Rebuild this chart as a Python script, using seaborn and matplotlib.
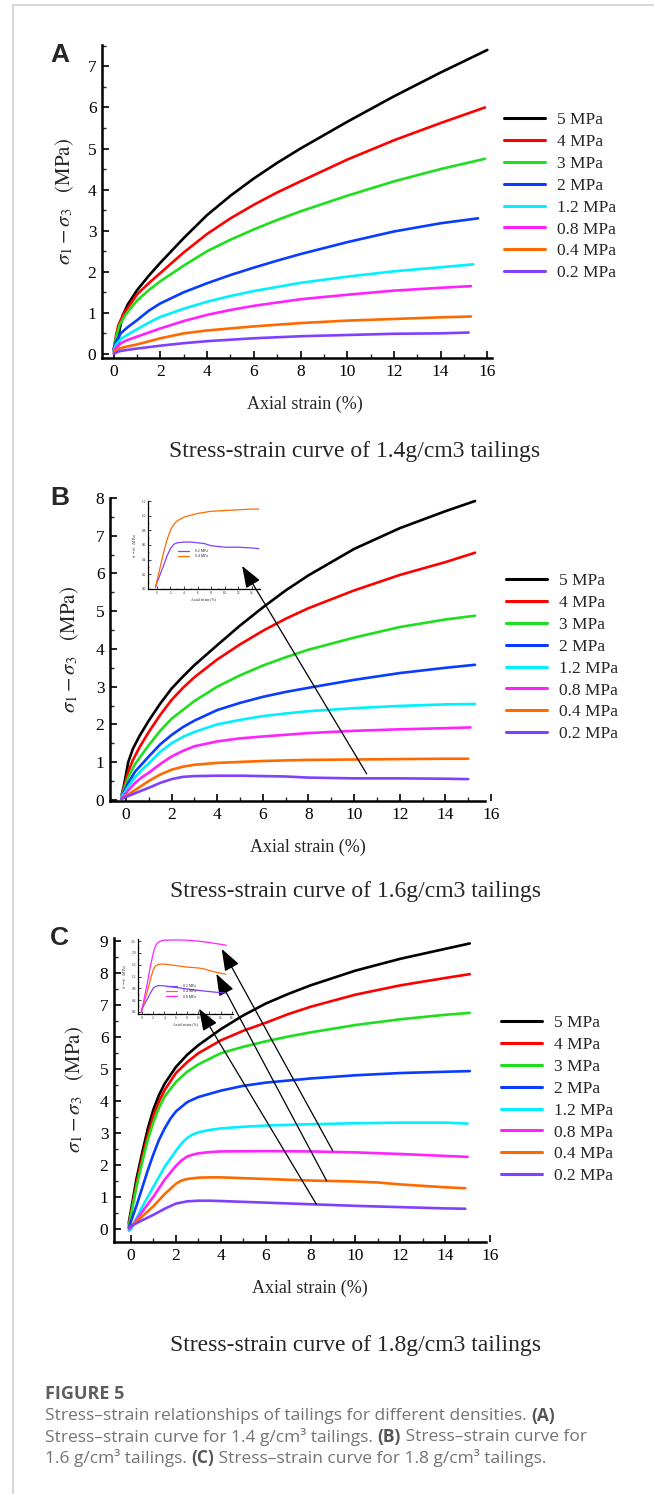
import numpy as np
import pandas as pd
import matplotlib
matplotlib.use("Agg")
import matplotlib.pyplot as plt
import seaborn as sns
from matplotlib.ticker import MultipleLocator
from matplotlib.lines import Line2D

sns.set_theme(style="ticks")
plt.rcParams["font.family"] = ["Liberation Serif", "DejaVu Sans"]
plt.rcParams["mathtext.fontset"] = "stix"

# ---------------- data ----------------
pressures = ["5 MPa", "4 MPa", "3 MPa", "2 MPa", "1.2 MPa", "0.8 MPa", "0.4 MPa", "0.2 MPa"]
colors = ["#000000", "#ff0000", "#1ede1e", "#0a3cff", "#00f0ff", "#ff22ff", "#ff6a00", "#8040ff"]

# Panel A: 1.4 g/cm3
A_x_5 = [0.0, 0.2, 0.25, 0.4, 0.6, 1, 1.5, 2, 3, 4, 5, 6, 7, 8, 10, 12, 14, 16]
A_y_5 = [0.12, 0.2, 0.6, 0.95, 1.2, 1.55, 1.9, 2.22, 2.82, 3.38, 3.85, 4.27, 4.65, 5.0, 5.65, 6.27, 6.85, 7.4]
A_x_4 = [0, 0.1, 0.2, 0.4, 0.7, 1, 1.5, 2, 3, 4, 5, 6, 7, 8, 10, 12, 14, 15.9]
A_y_4 = [0.1, 0.45, 0.7, 0.95, 1.2, 1.45, 1.72, 1.97, 2.47, 2.92, 3.3, 3.63, 3.93, 4.2, 4.73, 5.2, 5.62, 6.0]
A_x_3 = [0, 0.1, 0.25, 0.5, 1, 1.5, 2, 3, 4, 5, 6, 7, 8, 10, 12, 14, 15.9]
A_y_3 = [0.1, 0.4, 0.7, 0.95, 1.3, 1.55, 1.77, 2.15, 2.5, 2.78, 3.03, 3.26, 3.47, 3.85, 4.2, 4.5, 4.75]
A_x_2 = [0, 0.1, 0.3, 0.6, 1, 1.5, 2, 3, 4, 5, 6, 7, 8, 10, 12, 14, 15.6]
A_y_2 = [0.1, 0.3, 0.5, 0.65, 0.82, 1.05, 1.23, 1.5, 1.72, 1.92, 2.1, 2.27, 2.43, 2.72, 2.98, 3.18, 3.3]
A_x_12 = [0, 0.1, 0.3, 0.6, 1, 1.5, 2, 3, 4, 5, 6, 8, 10, 12, 14, 15.4]
A_y_12 = [0.08, 0.22, 0.36, 0.47, 0.6, 0.76, 0.9, 1.1, 1.27, 1.41, 1.53, 1.73, 1.88, 2.01, 2.11, 2.18]
A_x_08 = [0, 0.1, 0.3, 0.6, 1, 2, 3, 4, 5, 6, 8, 10, 12, 14, 15.3]
A_y_08 = [0.05, 0.15, 0.26, 0.34, 0.42, 0.62, 0.8, 0.95, 1.07, 1.17, 1.33, 1.44, 1.54, 1.61, 1.65]
A_x_04 = [0, 0.2, 0.5, 1, 2, 3, 4, 6, 8, 10, 12, 14, 15.3]
A_y_04 = [0.05, 0.12, 0.17, 0.23, 0.38, 0.5, 0.57, 0.67, 0.75, 0.81, 0.85, 0.89, 0.91]
A_x_02 = [0, 0.2, 0.5, 1, 2, 3, 4, 6, 8, 10, 12, 14, 15.2]
A_y_02 = [0.0, 0.06, 0.09, 0.13, 0.2, 0.26, 0.31, 0.38, 0.43, 0.46, 0.49, 0.5, 0.52]

# Panel B: 1.6 g/cm3
B_x_5 = [-0.2, -0.1, 0.1, 0.3, 0.6, 1, 1.5, 2, 2.5, 3, 4, 5, 6, 7, 8, 10, 12, 14, 15.3]
B_y_5 = [0.1, 0.35, 1.0, 1.35, 1.7, 2.1, 2.55, 2.95, 3.27, 3.57, 4.1, 4.62, 5.1, 5.55, 5.95, 6.65, 7.2, 7.65, 7.92]
B_x_4 = [-0.2, -0.1, 0.1, 0.3, 0.6, 1, 1.5, 2, 2.5, 3, 4, 5, 6, 7, 8, 10, 12, 14, 15.3]
B_y_4 = [0.1, 0.3, 0.75, 1.05, 1.4, 1.8, 2.25, 2.65, 2.97, 3.25, 3.72, 4.12, 4.48, 4.8, 5.08, 5.55, 5.96, 6.3, 6.55]
B_x_3 = [-0.2, -0.1, 0.1, 0.4, 0.7, 1, 1.5, 2, 3, 4, 5, 6, 7, 8, 10, 12, 14, 15.3]
B_y_3 = [0.1, 0.25, 0.6, 0.95, 1.2, 1.45, 1.83, 2.15, 2.62, 3.0, 3.3, 3.56, 3.78, 3.98, 4.3, 4.58, 4.78, 4.88]
B_x_2 = [-0.2, -0.1, 0.1, 0.4, 0.7, 1, 1.5, 2, 2.5, 3, 4, 5, 6, 7, 8, 10, 12, 14, 15.3]
B_y_2 = [0.1, 0.2, 0.45, 0.75, 0.95, 1.15, 1.47, 1.72, 1.93, 2.1, 2.38, 2.57, 2.73, 2.86, 2.97, 3.18, 3.36, 3.5, 3.58]
B_x_12 = [-0.2, -0.1, 0.1, 0.4, 0.7, 1, 1.5, 2, 2.5, 3, 4, 5, 6, 7, 8, 10, 12, 14, 15.3]
B_y_12 = [0.1, 0.15, 0.35, 0.6, 0.8, 0.97, 1.27, 1.5, 1.67, 1.8, 2.0, 2.12, 2.22, 2.29, 2.35, 2.43, 2.49, 2.53, 2.54]
B_x_08 = [-0.2, -0.1, 0.1, 0.4, 0.7, 1, 1.5, 2, 2.5, 3, 4, 5, 6, 8, 10, 12, 14, 15.1]
B_y_08 = [0.05, 0.1, 0.25, 0.45, 0.6, 0.72, 0.95, 1.15, 1.3, 1.42, 1.55, 1.63, 1.68, 1.77, 1.83, 1.87, 1.9, 1.92]
B_x_04 = [-0.2, 0, 0.5, 1, 1.5, 2, 2.5, 3, 4, 6, 8, 10, 12, 14, 15]
B_y_04 = [0.03, 0.1, 0.3, 0.5, 0.67, 0.8, 0.88, 0.93, 0.98, 1.03, 1.06, 1.07, 1.08, 1.09, 1.09]
B_x_02 = [-0.2, 0, 0.5, 1, 1.5, 2, 2.5, 3, 4, 5, 6, 7, 8, 10, 12, 14, 15]
B_y_02 = [0.02, 0.08, 0.2, 0.32, 0.45, 0.55, 0.61, 0.63, 0.64, 0.64, 0.63, 0.62, 0.59, 0.57, 0.57, 0.56, 0.55]

# Panel C: 1.8 g/cm3
C_x_5 = [-0.1, 0, 0.25, 0.5, 0.75, 1, 1.25, 1.5, 2, 2.5, 3, 4, 5, 6, 7, 8, 10, 12, 14, 15.1]
C_y_5 = [0.2, 0.6, 1.6, 2.4, 3.15, 3.75, 4.2, 4.55, 5.07, 5.45, 5.75, 6.25, 6.68, 7.05, 7.35, 7.62, 8.08, 8.45, 8.76, 8.93]
C_x_4 = [-0.1, 0, 0.25, 0.5, 0.75, 1, 1.25, 1.5, 2, 2.5, 3, 4, 5, 6, 7, 8, 10, 12, 14, 15.1]
C_y_4 = [0.15, 0.5, 1.45, 2.25, 2.95, 3.55, 4.0, 4.35, 4.88, 5.22, 5.5, 5.9, 6.2, 6.45, 6.72, 6.95, 7.33, 7.62, 7.85, 7.97]
C_x_3 = [-0.1, 0, 0.25, 0.5, 0.75, 1, 1.25, 1.5, 2, 2.5, 3, 4, 5, 6, 7, 8, 10, 12, 14, 15.1]
C_y_3 = [0.1, 0.45, 1.35, 2.1, 2.8, 3.35, 3.8, 4.15, 4.6, 4.92, 5.15, 5.5, 5.7, 5.87, 6.02, 6.15, 6.38, 6.56, 6.7, 6.76]
C_x_2 = [-0.1, 0, 0.25, 0.5, 0.75, 1, 1.25, 1.5, 1.75, 2, 2.5, 3, 4, 5, 6, 8, 10, 12, 14, 15.1]
C_y_2 = [0.05, 0.25, 0.75, 1.3, 1.85, 2.35, 2.8, 3.15, 3.45, 3.68, 3.97, 4.13, 4.33, 4.48, 4.58, 4.71, 4.81, 4.88, 4.92, 4.94]
C_x_12 = [-0.1, 0, 0.25, 0.5, 1, 1.5, 2, 2.25, 2.5, 2.75, 3, 3.5, 4, 5, 6, 8, 10, 12, 14, 15]
C_y_12 = [-0.05, 0.0, 0.35, 0.7, 1.33, 1.95, 2.45, 2.68, 2.85, 2.96, 3.03, 3.1, 3.15, 3.2, 3.24, 3.28, 3.31, 3.33, 3.33, 3.3]
C_x_08 = [-0.1, 0, 0.5, 1, 1.5, 2, 2.25, 2.5, 2.75, 3, 3.5, 4, 6, 8, 10, 12, 14, 15]
C_y_08 = [0.0, 0.05, 0.55, 1.02, 1.55, 1.98, 2.15, 2.27, 2.33, 2.37, 2.41, 2.43, 2.44, 2.43, 2.4, 2.35, 2.29, 2.26]
C_x_04 = [-0.1, 0, 0.5, 1, 1.5, 2, 2.25, 2.5, 3, 3.5, 4, 6, 8, 10, 11, 12, 14, 14.9]
C_y_04 = [0.05, 0.1, 0.4, 0.72, 1.1, 1.42, 1.52, 1.57, 1.61, 1.62, 1.62, 1.57, 1.52, 1.49, 1.46, 1.4, 1.31, 1.28]
C_x_02 = [-0.1, 0, 0.5, 1, 1.5, 2, 2.5, 3, 3.5, 4, 6, 8, 10, 12, 14, 14.9]
C_y_02 = [0.05, 0.1, 0.28, 0.45, 0.64, 0.8, 0.87, 0.89, 0.89, 0.88, 0.83, 0.78, 0.73, 0.69, 0.65, 0.64]

panel_A = [(A_x_5, A_y_5), (A_x_4, A_y_4), (A_x_3, A_y_3), (A_x_2, A_y_2),
           (A_x_12, A_y_12), (A_x_08, A_y_08), (A_x_04, A_y_04), (A_x_02, A_y_02)]
panel_B = [(B_x_5, B_y_5), (B_x_4, B_y_4), (B_x_3, B_y_3), (B_x_2, B_y_2),
           (B_x_12, B_y_12), (B_x_08, B_y_08), (B_x_04, B_y_04), (B_x_02, B_y_02)]
panel_C = [(C_x_5, C_y_5), (C_x_4, C_y_4), (C_x_3, C_y_3), (C_x_2, C_y_2),
           (C_x_12, C_y_12), (C_x_08, C_y_08), (C_x_04, C_y_04), (C_x_02, C_y_02)]

panel_titles = ["Stress-strain curve of 1.4g/cm3 tailings",
                "Stress-strain curve of 1.6g/cm3 tailings",
                "Stress-strain curve of 1.8g/cm3 tailings"]
panel_letters = ["A", "B", "C"]
ylabel_text = r"$\sigma_1-\sigma_3\quad(\mathrm{MPa})$"


def make_df(curves, keep=None):
    frames = []
    for p, (xs, ys) in zip(pressures, curves):
        if keep is not None and p not in keep:
            continue
        frames.append(pd.DataFrame({"strain": xs, "stress": ys, "pressure": p}))
    return pd.concat(frames, ignore_index=True)


palette = dict(zip(pressures, colors))

# ---------------- figure ----------------
W, H = 654, 1494
fig = plt.figure(figsize=(W / 100, H / 100), dpi=100)
fig.patch.set_facecolor("white")


def rect(l, t, r, b):
    return [l / W, 1 - b / H, (r - l) / W, (b - t) / H]


# card border
fig.add_artist(Line2D([13 / W, 13 / W], [0, 1 - 5 / H], transform=fig.transFigure,
                      color="#d4d4d4", lw=1.3))
fig.add_artist(Line2D([13 / W, 1], [1 - 5 / H, 1 - 5 / H], transform=fig.transFigure,
                      color="#d4d4d4", lw=1.3))

panels = [
    dict(curves=panel_A, box=(102, 45, 492, 358), xlim=(-0.5, 16.2), ylim=(-0.1, 7.52),
         spine_end=16.2, legend_xy=(504, 112), title_y=452, letter_y=62, ylab=-26),
    dict(curves=panel_B, box=(110, 498, 491, 801), xlim=(-0.7, 16.0), ylim=(-0.03, 8.0),
         spine_end=15.75, legend_xy=(506, 573), title_y=892, letter_y=505, ylab=-29),
    dict(curves=panel_C, box=(114, 938, 490, 1242), xlim=(-0.76, 16.0), ylim=(-0.4, 9.1),
         spine_end=15.8, legend_xy=(501, 1015), title_y=1345, letter_y=945, ylab=-28),
]

axes = []
for i, P in enumerate(panels):
    ax = fig.add_axes(rect(*P["box"]))
    axes.append(ax)
    df = make_df(P["curves"])
    sns.lineplot(data=df, x="strain", y="stress", hue="pressure", hue_order=pressures,
                 palette=palette, sort=False, estimator=None, lw=1.9, ax=ax)
    ax.set_xlim(*P["xlim"])
    ax.set_ylim(*P["ylim"])
    ax.xaxis.set_major_locator(MultipleLocator(2))
    ax.xaxis.set_minor_locator(MultipleLocator(1))
    ax.yaxis.set_major_locator(MultipleLocator(1))
    ax.yaxis.set_minor_locator(MultipleLocator(0.5))
    ax.tick_params(which="major", direction="in", length=5, width=1.2, labelsize=12.5,
                   pad=4, colors="black")
    ax.tick_params(which="minor", direction="in", length=3, width=1.0)
    for s in ["top", "right"]:
        ax.spines[s].set_visible(False)
    for s in ["left", "bottom"]:
        ax.spines[s].set_linewidth(1.8)
        ax.spines[s].set_color("black")
    ax.spines["bottom"].set_bounds(P["xlim"][0], P["spine_end"])
    ax.set_facecolor("none")
    ax.set_xlabel("Axial strain (%)", fontsize=13)
    ax.set_ylabel(ylabel_text, fontsize=15)
    bw = P["box"][2] - P["box"][0]
    bh = P["box"][3] - P["box"][1]
    ax.yaxis.set_label_coords(P["ylab"] / bw, 0.5)
    ax.xaxis.set_label_coords(0.52, -38 / bh)
    handles, labels = ax.get_legend_handles_labels()
    ax.legend(handles, labels, loc="upper left",
              bbox_to_anchor=(P["legend_xy"][0] / W, 1 - P["legend_xy"][1] / H),
              bbox_transform=fig.transFigure, frameon=False, borderpad=0,
              borderaxespad=0, handlelength=2.35, handletextpad=0.7,
              labelspacing=0.33, fontsize=12.5)
    for lh in ax.get_legend().get_lines():
        lh.set_linewidth(2.2)
    fig.text(355 / W, 1 - P["title_y"] / H, panel_titles[i], ha="center", va="center",
             fontsize=17)
    fig.text(50 / W, 1 - P["letter_y"] / H, panel_letters[i], ha="left", va="baseline",
             fontsize=19, fontweight="bold", family="Liberation Sans")

# ---------------- insets ----------------
def inset(box, curves, keep, xlim, ylim, ystep):
    ia = fig.add_axes(rect(*box))
    df = make_df(curves, keep)
    sns.lineplot(data=df, x="strain", y="stress", hue="pressure", hue_order=keep,
                 palette=palette, sort=False, estimator=None, lw=0.9, ax=ia)
    ia.set_xlim(*xlim)
    ia.set_ylim(*ylim)
    ia.set_facecolor("none")
    ia.xaxis.set_major_locator(MultipleLocator(2))
    ia.xaxis.set_minor_locator(MultipleLocator(1))
    ia.yaxis.set_major_locator(MultipleLocator(ystep))
    ia.yaxis.set_minor_locator(MultipleLocator(ystep / 2))
    ia.tick_params(which="major", direction="in", length=2, width=0.6, labelsize=2.6, pad=1.5)
    ia.tick_params(which="minor", direction="in", length=1, width=0.5)
    for s in ["top", "right"]:
        ia.spines[s].set_visible(False)
    for s in ["left", "bottom"]:
        ia.spines[s].set_linewidth(0.9)
        ia.spines[s].set_color("black")
    ia.set_xlabel("Axial strain (%)", fontsize=2.8, labelpad=1.5)
    ia.set_ylabel(ylabel_text, fontsize=2.8, labelpad=1.5)
    h, l = ia.get_legend_handles_labels()
    ia.legend(h, l, loc="center", bbox_to_anchor=(0.4, 0.4), frameon=False,
              fontsize=2.8, handlelength=3, labelspacing=0.3, handletextpad=1.5)
    return ia


inset((148, 501, 260, 589), panel_B, ["0.2 MPa", "0.4 MPa"], (-1.3, 15.2), (0, 1.2), 0.2)
ic = inset((138, 939, 233, 1014), panel_C, ["0.2 MPa", "0.4 MPa", "0.8 MPa"],
           (-0.7, 16.2), (-0.07, 2.47), 0.4)
ic.get_legend().set_bbox_to_anchor((0.45, 0.3))

# ---------------- arrows ----------------
arrow_style = dict(arrowstyle="-|>,head_length=0.9,head_width=0.33", color="black",
                   lw=0.9, mutation_scale=15, shrinkA=0, shrinkB=0)
B_arrow_start = [(10.55, 0.69)]
B_arrow_tip = [(5.09, 6.2)]
C_arrow_start = [(8.26, 0.78), (8.72, 1.51), (8.99, 2.45)]
C_arrow_tip = [(3.03, 6.89), (3.8, 7.98), (4.04, 8.76)]
for s, t in zip(B_arrow_start, B_arrow_tip):
    axes[1].annotate("", xy=t, xytext=s, arrowprops=arrow_style, annotation_clip=False)
for s, t in zip(C_arrow_start, C_arrow_tip):
    axes[2].annotate("", xy=t, xytext=s, arrowprops=arrow_style, annotation_clip=False)

# ---------------- figure caption ----------------
cap_color = "#737373"
cap_bold = "#555555"
cap_font = "Open Sans"
fig.text(45 / W, 1 - 1394 / H, "FIGURE 5", fontsize=13, fontweight="bold",
         color="#5e5e5e", family=cap_font, va="center")

caption_lines = [
    [("Stress\u2013strain relationships of tailings for different densities. ", False), ("(A)", True)],
    [("Stress\u2013strain curve for 1.4 g/cm\u00b3 tailings. ", False), ("(B)", True),
     (" Stress\u2013strain curve for", False)],
    [("1.6 g/cm\u00b3 tailings. ", False), ("(C)", True),
     (" Stress\u2013strain curve for 1.8 g/cm\u00b3 tailings.", False)],
]
line_y = [1416, 1437, 1458]
renderer = fig.canvas.get_renderer()
for parts, yy in zip(caption_lines, line_y):
    x = 45
    for txt, bold in parts:
        t = fig.text(x / W, 1 - yy / H, txt, fontsize=12.5, family=cap_font,
                     fontweight="bold" if bold else "normal",
                     color=cap_bold if bold else cap_color, va="center")
        bb = t.get_window_extent(renderer=renderer)
        x += bb.width

fig.savefig("out.png", dpi=100, facecolor="white")
